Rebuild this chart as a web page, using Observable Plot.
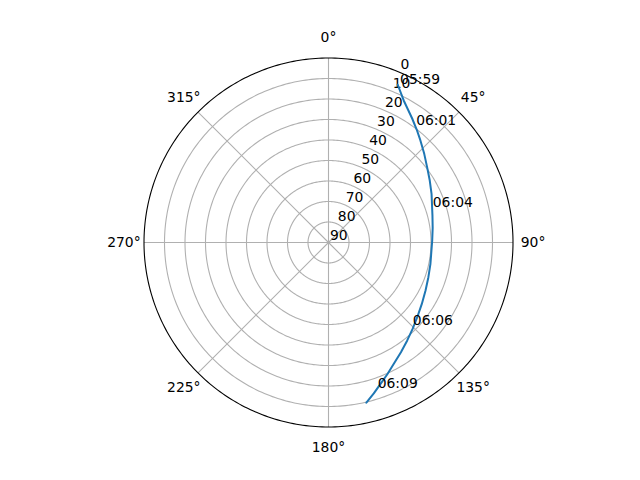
<!DOCTYPE html>
<html>
<head>
<meta charset="utf-8">
<script src="https://cdn.jsdelivr.net/npm/d3@7"></script>
<script src="https://cdn.jsdelivr.net/npm/@observablehq/plot@0.6"></script>
<style>
  html, body { margin: 0; padding: 0; background: white; }
</style>
</head>
<body>
<div id="chart"></div>
<script>
// Satellite pass track: azimuth (deg, clockwise from north) and elevation (deg)
const trackAz = [23.7, 27.9, 34.1, 42.0, 52.7, 64.7, 75.4, 88.9, 101.8, 116.3, 130.1, 141.2, 151.7, 159.8, 166.7];
const trackEl = [5.97, 11.6, 17.1, 23.0, 29.5, 34.4, 37.6, 39.4, 39.2, 37.2, 33.4, 28.7, 22.8, 16.5, 9.7];

// Time annotations
const labelTimes = ["05:59", "06:01", "06:04", "06:06", "06:09"];
const labelAz = [24.3, 36.6, 71.3, 134.55, 161.3];
const labelEl = [5.2, 18.3, 36.3, 32.3, 15.15];

// Grid
const ringEls = [10, 20, 30, 40, 50, 60, 70, 80];
const spokeAz = [0, 45, 90, 135, 180, 225, 270, 315];
const azLabels = ["0°", "45°", "90°", "135°", "180°", "225°", "270°", "315°"];
const rTicks = [0, 10, 20, 30, 40, 50, 60, 70, 80, 90];
const rLabelAz = 22.5;

// azimuth (clockwise from north) -> longitude for a pole-centred azimuthal projection
const lon = az => 180 - az;

const track = trackAz.map((az, i) => ({az, el: trackEl[i]}));
const labels = labelTimes.map((t, i) => ({t, az: labelAz[i], el: labelEl[i]}));
const thetaTicks = spokeAz.map((az, i) => ({az, label: azLabels[i]}));

const FS = 13.9;
const circle = r => d3.geoCircle().center([0, 90]).radius(r).precision(1)();

const chart = Plot.plot({
  width: 640,
  height: 480,
  marginLeft: 143.5,
  marginRight: 127.5,
  marginTop: 57.5,
  marginBottom: 53.5,
  projection: {
    type: "azimuthal-equidistant",
    rotate: [0, -90],
    domain: circle(90),
    inset: 0,
    clip: false
  },
  style: {fontFamily: "DejaVu Sans", background: "white"},
  marks: [
    Plot.geo(ringEls, {geometry: e => circle(90 - e), fill: "none", stroke: "#b0b0b0", strokeWidth: 1.1}),
    Plot.link(spokeAz, {x1: a => lon(a), y1: () => 90, x2: a => lon(a), y2: () => 0, stroke: "#b0b0b0", strokeWidth: 1.1}),
    Plot.geo([0], {geometry: () => circle(90), fill: "none", stroke: "black", strokeWidth: 1.1}),
    Plot.text(thetaTicks, {x: d => lon(d.az), y: () => -9.8, text: "label", fontSize: FS, fill: "black", textAnchor: "middle", clip: false}),
    Plot.text(rTicks, {x: () => lon(rLabelAz), y: d => d, text: d => String(d), fontSize: FS, fill: "black", textAnchor: "start", dx: 1.5, dy: -7.2}),
    Plot.line(track, {x: d => lon(d.az), y: "el", stroke: "#1f77b4", strokeWidth: 2}),
    Plot.text(labels, {x: d => lon(d.az), y: "el", text: "t", fontSize: FS, fill: "black", textAnchor: "start", dy: -4.45})
  ]
});

document.getElementById("chart").appendChild(chart);
</script>
</body>
</html>
